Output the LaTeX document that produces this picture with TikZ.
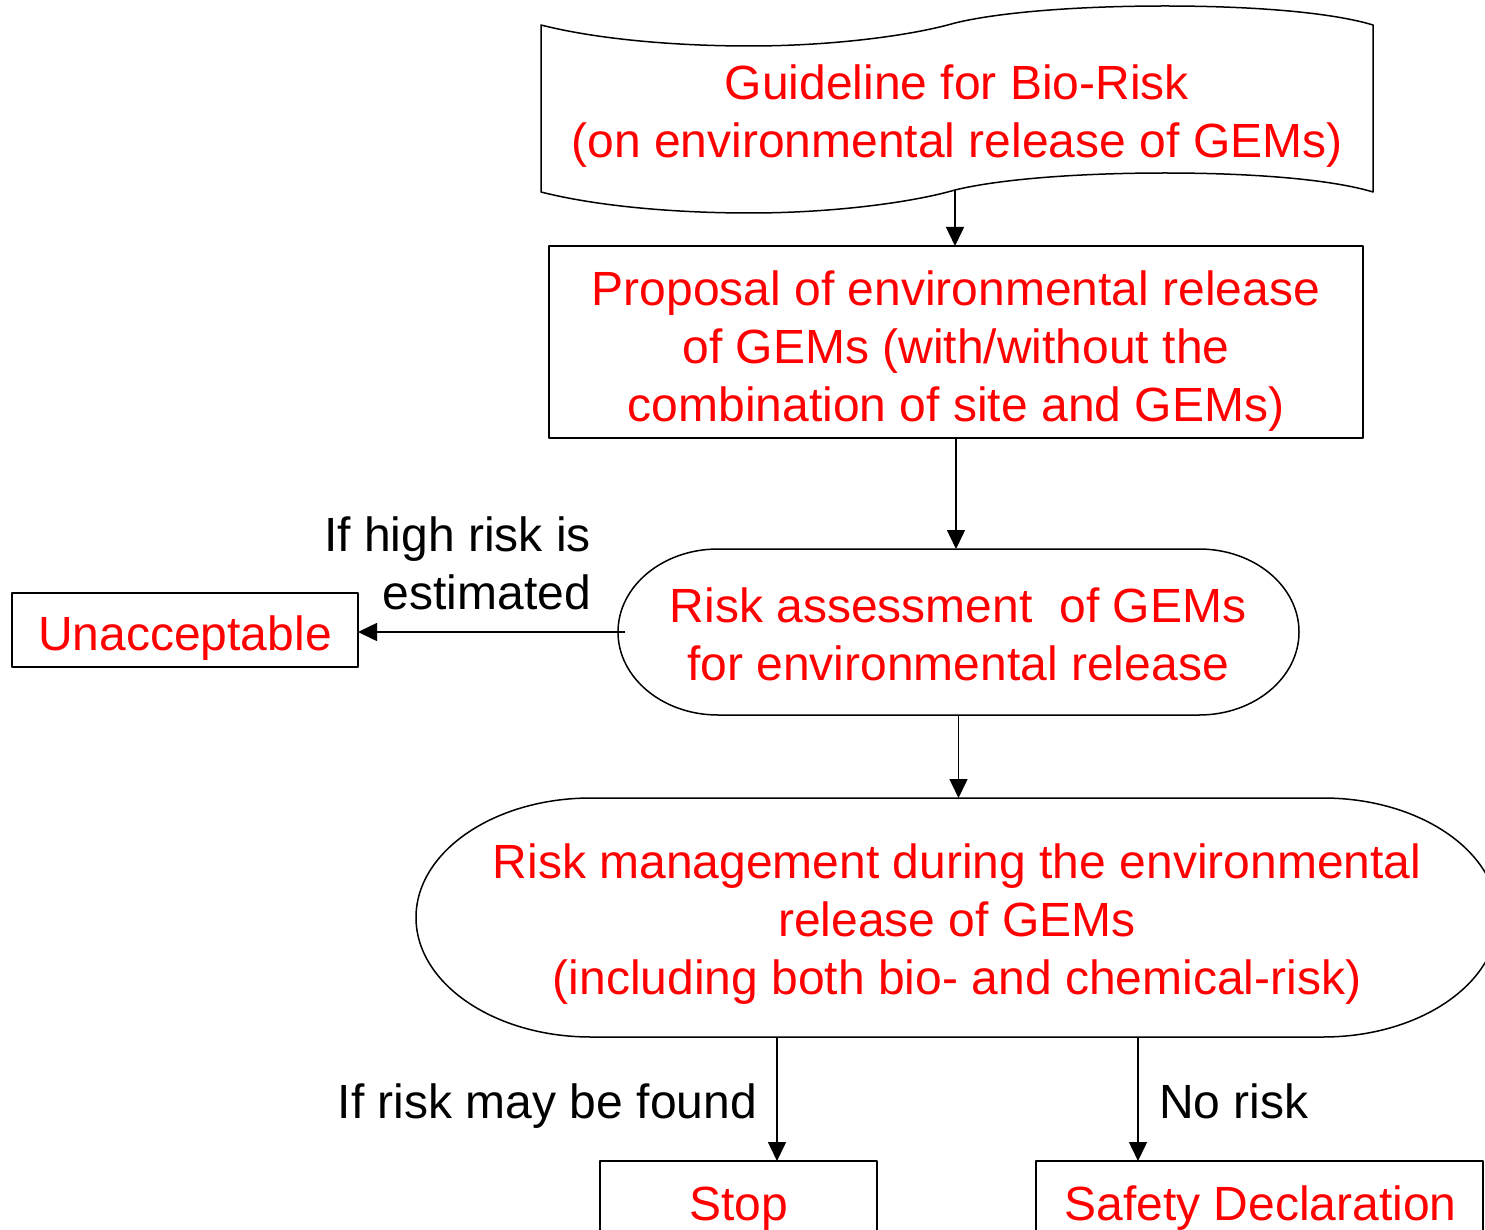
\documentclass[tikz,border=0pt]{standalone}
\usepackage{fontspec}
\setmainfont{Liberation Sans}
\usetikzlibrary{arrows.meta}
\newcommand\lstrut{\rule[-17.4pt]{0pt}{58pt}}
\begin{document}
\begin{tikzpicture}[x=1pt,y=1pt,
  shapeline/.style={draw=black,line width=1.5pt,line join=round},
  box/.style={shapeline,rectangle,inner sep=0pt,outer sep=0pt},
  frame/.style={rectangle,inner sep=0pt,outer sep=0pt},
  redtxt/.style={text=red,font=\fontsize{48}{58}\selectfont,align=center,inner sep=0pt},
  blktxt/.style={text=black,font=\fontsize{48}{58}\selectfont,inner sep=0pt},
  arr/.style={line width=1.5pt,-{Triangle[length=19pt,width=18pt]}}]
\useasboundingbox (0,0) rectangle (1485,-1230);
\fill[white] (0,0) rectangle (1485,-1230);
\clip (0,0) rectangle (1485,-1230);

% Guideline (punched tape shape)
\node[frame,minimum width=832,minimum height=167] (guide) at (957,-108.5) {};
\draw[shapeline] (541,-25) .. controls (600,-40) and (680,-46) .. (750,-46)
  .. controls (830,-46) and (910,-36) .. (955,-23)
  .. controls (1000,-12) and (1080,-6) .. (1165,-6)
  .. controls (1250,-6) and (1330,-12) .. (1373,-25)
  -- (1373,-192)
  .. controls (1330,-179) and (1250,-173) .. (1165,-173)
  .. controls (1080,-173) and (1000,-179) .. (955,-190)
  .. controls (910,-203) and (830,-213) .. (750,-213)
  .. controls (680,-213) and (600,-207) .. (541,-192) -- cycle;
\coordinate (docb) at (955,-190);
\node[redtxt] (guidetxt) at (957,-117.4) {Guideline for Bio-Risk\lstrut\\(on environmental release of GEMs)\lstrut};

% Proposal
\node[box,minimum width=814,minimum height=192] (prop) at (956,-342) {};
\node[redtxt] (proptxt) at (956,-351.4) {Proposal of environmental release\lstrut\\of GEMs (with/without the\lstrut\\combination of site and GEMs)\lstrut};

% Risk assessment (stadium)
\node[frame,minimum width=681,minimum height=166] (assess) at (958.5,-632) {};
\draw[shapeline] ([xshift=100]assess.north west) -- ([xshift=-100]assess.north east)
  arc[start angle=90,end angle=-90,x radius=100,y radius=83]
  -- ([xshift=100]assess.south west)
  arc[start angle=270,end angle=90,x radius=100,y radius=83] -- cycle;
\node[redtxt] (assesstxt) at (958,-639.4) {Risk assessment\ \ of GEMs\lstrut\\for environmental release\lstrut};

% Unacceptable
\node[box,minimum width=346,minimum height=74] (unacc) at (185,-630) {};
\node[redtxt] (unacctxt) at (185,-638.4) {Unacceptable\lstrut};
\node[blktxt,align=right,anchor=east] (highlbl) at (591,-568.4) {If high risk is\lstrut\\estimated\lstrut};

% Risk management (stadium with elliptical ends)
\node[frame,minimum width=1082,minimum height=239] (mgmt) at (957,-917.5) {};
\draw[shapeline] ([xshift=175]mgmt.north west) -- ([xshift=-175]mgmt.north east)
  arc[start angle=90,end angle=-90,x radius=175,y radius=119.5]
  -- ([xshift=175]mgmt.south west)
  arc[start angle=270,end angle=90,x radius=175,y radius=119.5] -- cycle;
\node[redtxt] (mgmttxt) at (957,-925) {Risk management during the environmental\lstrut\\release of GEMs\lstrut\\(including both bio- and chemical-risk)\lstrut};

% Bottom boxes
\node[box,minimum width=277,minimum height=90] (stop) at (738.5,-1206) {};
\node[redtxt] (stoptxt) at (738.5,-1208.4) {Stop\lstrut};
\node[box,minimum width=447,minimum height=90] (safe) at (1259.5,-1206) {};
\node[redtxt] (safetxt) at (1260.5,-1208.4) {Safety Declaration\lstrut};
\node[blktxt,anchor=east] (foundlbl) at (757,-1106.4) {If risk may be found\lstrut};
\node[blktxt,anchor=west] (nolbl) at (1159,-1106.4) {No risk\lstrut};

% Connectors
\draw[arr] (docb) -- (docb |- prop.north);
\draw[arr] (prop.south) -- (prop.south |- assess.north);
\draw[arr] ([xshift=7]assess.west) -- (assess.west -| unacc.east);
\draw[arr] (assess.south) -- (assess.south |- mgmt.north);
\coordinate (stopin) at ([xshift=38.5]stop.north);
\coordinate (safein) at ([xshift=-121.5]safe.north);
\draw[arr] (stopin |- mgmt.south) -- (stopin);
\draw[arr] (safein |- mgmt.south) -- (safein);
\end{tikzpicture}
\end{document}
